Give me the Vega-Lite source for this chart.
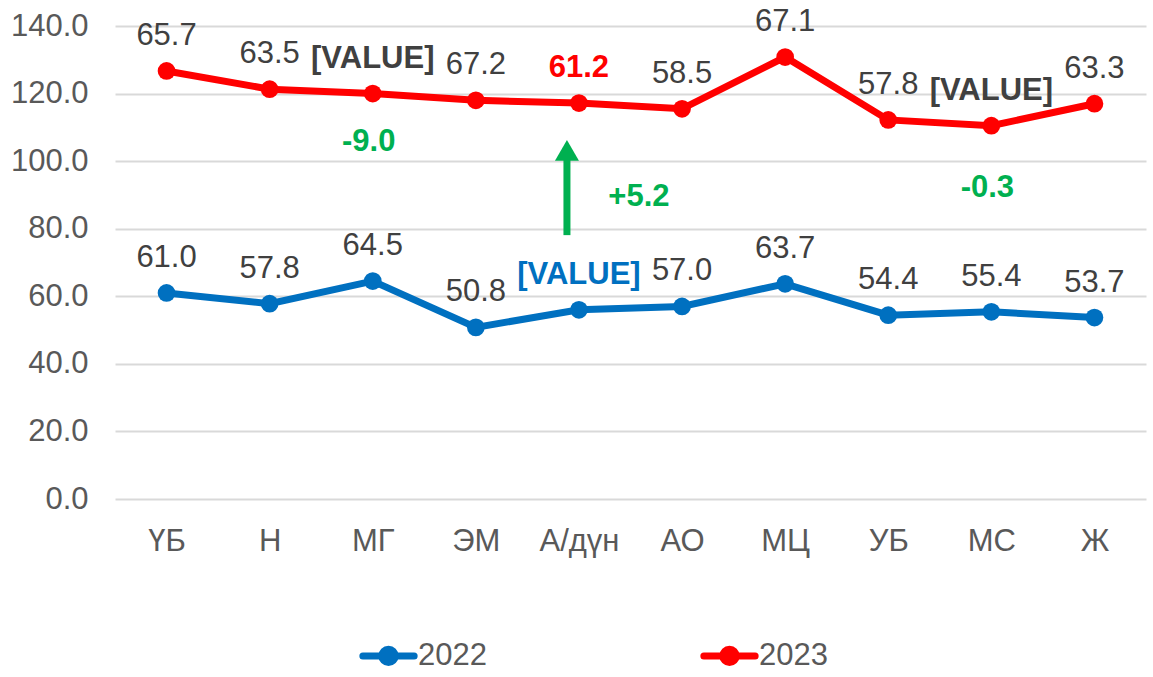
{
  "$schema": "https://vega.github.io/schema/vega-lite/v6.json",
  "width": 1031,
  "height": 473,
  "autosize": {"type": "none"},
  "padding": {"left": 115, "top": 26, "right": 7, "bottom": 178},
  "config": {
    "view": {"stroke": null},
    "font": "Liberation Sans",
    "text": {"font": "Liberation Sans"}
  },
  "datasets": {
    "series": [
      {"cat": "ҮБ", "year": "2022", "value": 61.0, "label": "61.0"},
      {"cat": "Н", "year": "2022", "value": 57.8, "label": "57.8"},
      {"cat": "МГ", "year": "2022", "value": 64.5, "label": "64.5"},
      {"cat": "ЭМ", "year": "2022", "value": 50.8, "label": "50.8"},
      {"cat": "А/дүн", "year": "2022", "value": 56.0, "label": "[VALUE]"},
      {"cat": "АО", "year": "2022", "value": 57.0, "label": "57.0"},
      {"cat": "МЦ", "year": "2022", "value": 63.7, "label": "63.7"},
      {"cat": "УБ", "year": "2022", "value": 54.4, "label": "54.4"},
      {"cat": "МС", "year": "2022", "value": 55.4, "label": "55.4"},
      {"cat": "Ж", "year": "2022", "value": 53.7, "label": "53.7"},
      {"cat": "ҮБ", "year": "2023", "value": 65.7, "label": "65.7"},
      {"cat": "Н", "year": "2023", "value": 63.5, "label": "63.5"},
      {"cat": "МГ", "year": "2023", "value": 55.5, "label": "[VALUE]"},
      {"cat": "ЭМ", "year": "2023", "value": 67.2, "label": "67.2"},
      {"cat": "А/дүн", "year": "2023", "value": 61.2, "label": "61.2"},
      {"cat": "АО", "year": "2023", "value": 58.5, "label": "58.5"},
      {"cat": "МЦ", "year": "2023", "value": 67.1, "label": "67.1"},
      {"cat": "УБ", "year": "2023", "value": 57.8, "label": "57.8"},
      {"cat": "МС", "year": "2023", "value": 55.1, "label": "[VALUE]"},
      {"cat": "Ж", "year": "2023", "value": 63.3, "label": "63.3"}
    ],
    "annot": [
      {"cat": "МГ", "y": 105.7, "text": "-9.0"},
      {"cat": "МС", "y": 92.0, "text": "-0.3"}
    ],
    "annot2": [
      {"cat": "А/дүн", "y": 89.4, "text": "+5.2"}
    ],
    "arrow": [
      {"cat": "А/дүн", "from": 78.1, "to": 101.0, "tip": 103.2}
    ]
  },
  "encoding": {
    "x": {
      "field": "cat", "type": "nominal",
      "sort": ["ҮБ","Н","МГ","ЭМ","А/дүн","АО","МЦ","УБ","МС","Ж"],
      "scale": {"type": "point", "padding": 0.5},
      "axis": {
        "title": null, "labelAngle": 0, "domain": false, "ticks": false, "tickSize": 0,
        "grid": false, "labelFontSize": 31, "labelColor": "#595959",
        "labelPadding": 27, "labelFont": "Liberation Sans"
      }
    }
  },
  "layer": [
    {
      "data": {"name": "series"},
      "transform": [
        {"stack": "value", "groupby": ["cat"], "sort": [{"field": "year", "order": "ascending"}], "as": ["y0", "y1"]}
      ],
      "encoding": {
        "y": {
          "field": "y1", "type": "quantitative",
          "scale": {"domain": [0, 140], "nice": false, "zero": true},
          "axis": {
            "title": null, "values": [0,20,40,60,80,100,120,140], "format": ".1f",
            "domain": false, "ticks": false, "tickSize": 0, "labelPadding": 27,
            "labelFontSize": 31, "labelColor": "#595959", "labelFont": "Liberation Sans",
            "gridColor": "#d9d9d9", "gridWidth": 2
          }
        }
      },
      "layer": [
        {
          "mark": {"type": "line", "strokeWidth": 7},
          "encoding": {
            "color": {
              "field": "year", "type": "nominal",
              "scale": {"domain": ["2022", "2023"], "range": ["#0070C0", "#FF0000"]},
              "legend": {
                "title": null, "orient": "none", "direction": "horizontal",
                "legendX": 258, "legendY": 614, "padding": 0,
                "symbolType": "M-2.7,0L2.7,0M0.7,0A0.7,0.7,0,1,1,-0.7,0A0.7,0.7,0,1,1,0.7,0",
                "symbolSize": 361, "symbolStrokeWidth": 7,
                "labelFontSize": 31, "labelColor": "#595959", "labelFont": "Liberation Sans",
                "labelOffset": 14, "columnPadding": 202,
                "encode": {
                  "symbols": {
                    "update": {
                      "fill": {"scale": "color", "field": "value"},
                      "stroke": {"scale": "color", "field": "value"},
                      "strokeWidth": {"value": 7},
                      "strokeCap": {"value": "round"},
                      "opacity": {"value": 1}
                    }
                  }
                }
              }
            }
          }
        },
        {
          "mark": {"type": "circle", "size": 314, "opacity": 1},
          "encoding": {
            "color": {"field": "year", "type": "nominal"}
          }
        },
        {
          "transform": [{"filter": "datum.label != '[VALUE]' && !(datum.cat == 'А/дүн' && datum.year == '2023')"}],
          "mark": {"type": "text", "fontSize": 31, "color": "#404040", "baseline": "middle", "dy": -35, "font": "Liberation Sans"},
          "encoding": {"text": {"field": "label"}}
        },
        {
          "transform": [{"filter": "datum.label == '[VALUE]' && datum.year == '2023'"}],
          "mark": {"type": "text", "fontSize": 31, "fontWeight": "bold", "color": "#404040", "baseline": "middle", "dy": -35, "font": "Liberation Sans"},
          "encoding": {"text": {"field": "label"}}
        },
        {
          "transform": [{"filter": "datum.label == '[VALUE]' && datum.year == '2022'"}],
          "mark": {"type": "text", "fontSize": 31, "fontWeight": "bold", "color": "#0070C0", "baseline": "middle", "dy": -35, "font": "Liberation Sans"},
          "encoding": {"text": {"field": "label"}}
        },
        {
          "transform": [{"filter": "datum.cat == 'А/дүн' && datum.year == '2023'"}],
          "mark": {"type": "text", "fontSize": 31, "fontWeight": "bold", "color": "#FF0000", "baseline": "middle", "dy": -35, "font": "Liberation Sans"},
          "encoding": {"text": {"field": "label"}}
        }
      ]
    },
    {
      "data": {"name": "arrow"},
      "mark": {"type": "rule", "color": "#00B050", "strokeWidth": 7, "xOffset": -12},
      "encoding": {
        "y": {"field": "from", "type": "quantitative"},
        "y2": {"field": "to"}
      }
    },
    {
      "data": {"name": "arrow"},
      "mark": {"type": "point", "shape": "triangle-up", "filled": true, "color": "#00B050", "size": 576, "opacity": 1, "xOffset": -12},
      "encoding": {
        "y": {"field": "tip", "type": "quantitative"}
      }
    },
    {
      "data": {"name": "annot"},
      "mark": {"type": "text", "fontSize": 31, "fontWeight": "bold", "color": "#00B050", "baseline": "middle", "font": "Liberation Sans", "dx": -4},
      "encoding": {
        "y": {"field": "y", "type": "quantitative"},
        "text": {"field": "text"}
      }
    },
    {
      "data": {"name": "annot2"},
      "mark": {"type": "text", "fontSize": 31, "fontWeight": "bold", "color": "#00B050", "baseline": "middle", "font": "Liberation Sans", "dx": 60},
      "encoding": {
        "y": {"field": "y", "type": "quantitative"},
        "text": {"field": "text"}
      }
    }
  ]
}
